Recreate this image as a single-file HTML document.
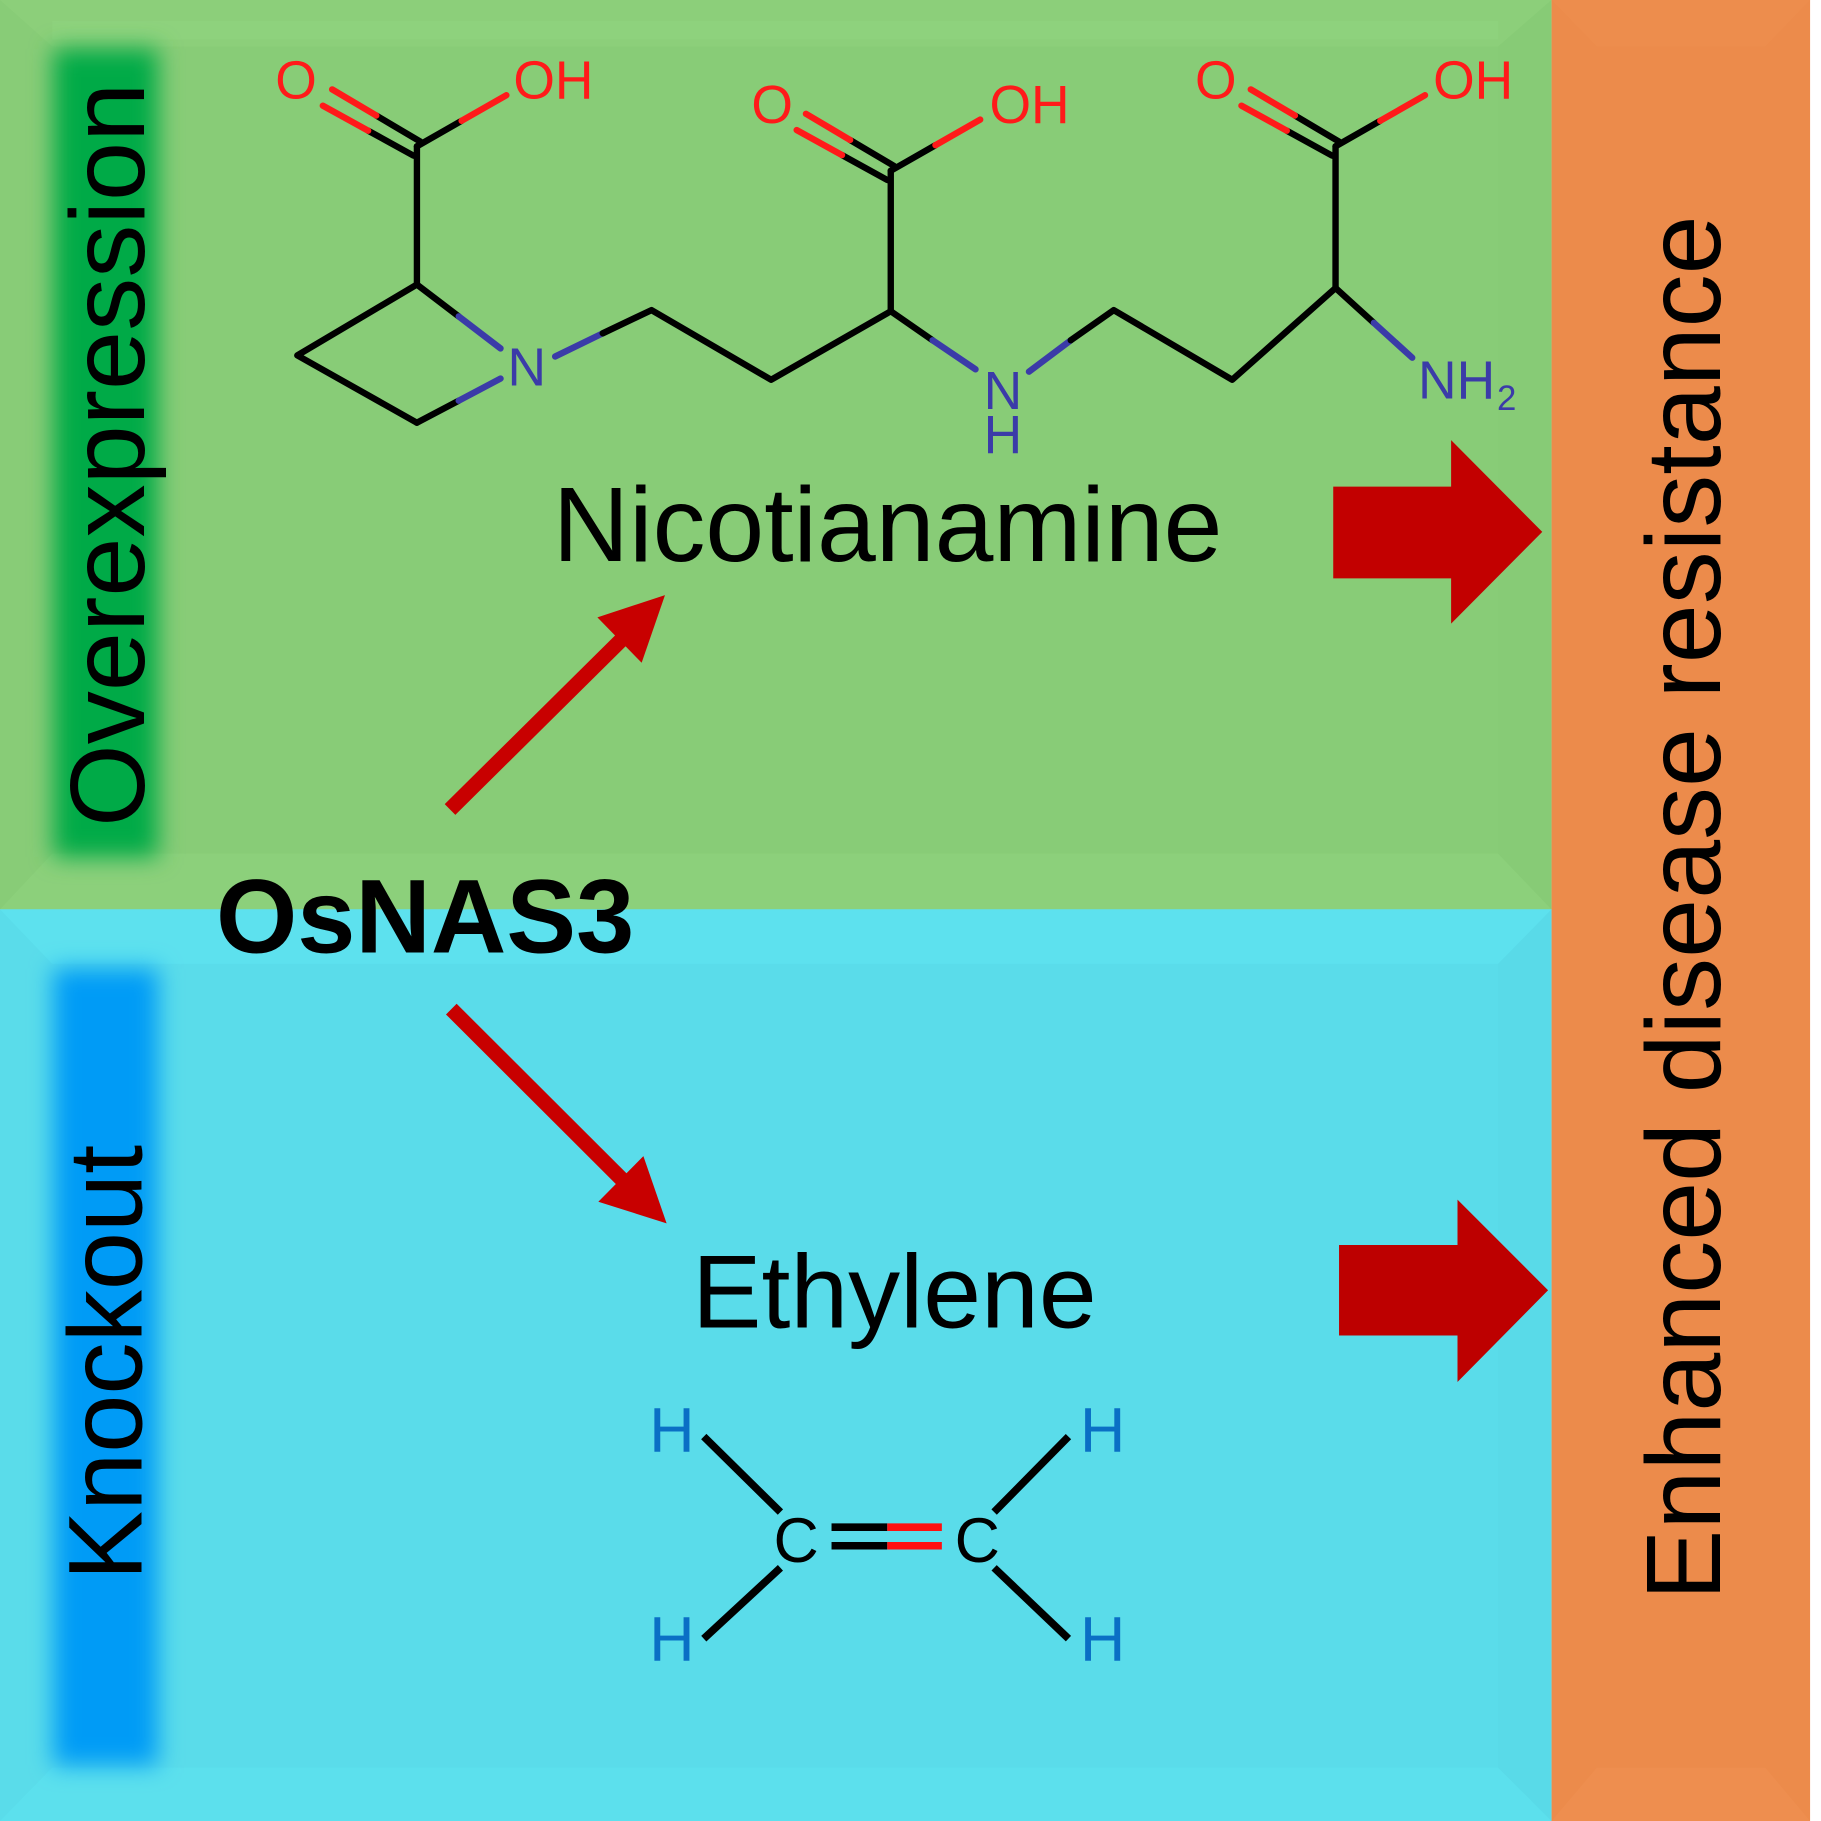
<!DOCTYPE html>
<html>
<head>
<meta charset="utf-8">
<style>
html,body{margin:0;padding:0;background:#ffffff;}
svg{display:block;}
text{font-family:"Liberation Sans",Arial,sans-serif;}
</style>
</head>
<body>
<svg width="1821" height="1821" viewBox="0 0 1568 1568" xmlns="http://www.w3.org/2000/svg">
<defs>
<filter id="blur" x="-50%" y="-20%" width="200%" height="140%">
<feGaussianBlur stdDeviation="10"/>
</filter>
</defs>
<rect x="0" y="0" width="1568" height="1568" fill="#ffffff"/>

<!-- Green panel -->
<rect x="0" y="0" width="1336" height="783" fill="#88cc77"/>
<polygon points="0,0 1336,0 1290,40 45,40" fill="#8ccf7a"/>
<rect x="45" y="18" width="1245" height="16" fill="#90d37e" opacity="0.6"/>
<polygon points="45,735 1290,735 1336,783 0,783" fill="#8cd07b"/>
<polygon points="1336,0 1290,40 1290,735 1336,783" fill="#87cb76"/>

<!-- Cyan panel -->
<rect x="0" y="783" width="1336" height="785" fill="#5adcea"/>
<polygon points="0,783 1336,783 1290,830 45,830" fill="#5de1ee"/>
<polygon points="45,1522 1290,1522 1336,1568 0,1568" fill="#5ce0ed"/>
<polygon points="1336,783 1290,830 1290,1522 1336,1568" fill="#59dae8"/>

<!-- Orange panel -->
<rect x="1336" y="0" width="222.6" height="1568" fill="#ec8b4b"/>
<polygon points="1336,0 1558.6,0 1520,40 1375,40" fill="#ed8d4d"/>
<polygon points="1375,1522 1520,1522 1558.6,1568 1336,1568" fill="#ee8e4f"/>

<!-- blurred side bars -->
<rect x="46" y="42" width="90" height="696" fill="#03aa46" filter="url(#blur)"/>
<rect x="46" y="834" width="90" height="686" fill="#069bf6" filter="url(#blur)"/>

<!-- vertical labels -->
<text transform="translate(124,712) rotate(-90)" font-size="91.5" fill="#000">Overexpression</text>
<text transform="translate(122,1361) rotate(-90)" font-size="90" fill="#000">Knockout</text>
<text transform="translate(1481,1378) rotate(-90)" font-size="91.3" fill="#000">Enhanced disease resistance</text>

<!-- main labels -->
<text x="476" y="483" font-size="91" fill="#000">Nicotianamine</text>
<text x="596" y="1143" font-size="89.5" fill="#000">Ethylene</text>
<text x="186" y="820" font-size="90" font-weight="bold" fill="#000">OsNAS3</text>

<!-- thin red arrows -->
<line x1="387.5" y1="697" x2="536" y2="550" stroke="#c80000" stroke-width="13"/>
<polygon points="572.6,512.4 514.4,531.6 552.5,570.7" fill="#c80000"/>
<line x1="388.6" y1="868.9" x2="537" y2="1017" stroke="#c80000" stroke-width="13"/>
<polygon points="574,1053.4 554,995.5 515.2,1034.8" fill="#c80000"/>

<!-- block arrows -->
<polygon points="1148,419 1249.5,419 1249.5,379 1328,458 1249.5,537 1249.5,498 1148,498" fill="#c20000"/>
<polygon points="1153,1072 1255,1072 1255,1033 1333,1111 1255,1190 1255,1150 1153,1150" fill="#bd0000"/>

<!-- Nicotianamine molecule bonds -->
<g stroke-width="5.5" fill="none" stroke-linecap="round" stroke-linejoin="round">
  <g transform="translate(359,126)">
    <line x1="3" y1="-4" x2="-35" y2="-26.5" stroke="#000"/>
    <line x1="-35" y1="-26.5" x2="-73" y2="-49" stroke="#ff1a1a"/>
    <line x1="-3" y1="8" x2="-42" y2="-13.5" stroke="#000"/>
    <line x1="-42" y1="-13.5" x2="-81" y2="-35" stroke="#ff1a1a"/>
    <line x1="0" y1="0" x2="38.5" y2="-22" stroke="#000"/>
    <line x1="38.5" y1="-22" x2="77" y2="-44" stroke="#ff1a1a"/>
  </g>
  <g transform="translate(767,147)">
    <line x1="3" y1="-4" x2="-35" y2="-26.5" stroke="#000"/>
    <line x1="-35" y1="-26.5" x2="-73" y2="-49" stroke="#ff1a1a"/>
    <line x1="-3" y1="8" x2="-42" y2="-13.5" stroke="#000"/>
    <line x1="-42" y1="-13.5" x2="-81" y2="-35" stroke="#ff1a1a"/>
    <line x1="0" y1="0" x2="38.5" y2="-22" stroke="#000"/>
    <line x1="38.5" y1="-22" x2="77" y2="-44" stroke="#ff1a1a"/>
  </g>
  <g transform="translate(1150,126)">
    <line x1="3" y1="-4" x2="-35" y2="-26.5" stroke="#000"/>
    <line x1="-35" y1="-26.5" x2="-73" y2="-49" stroke="#ff1a1a"/>
    <line x1="-3" y1="8" x2="-42" y2="-13.5" stroke="#000"/>
    <line x1="-42" y1="-13.5" x2="-81" y2="-35" stroke="#ff1a1a"/>
    <line x1="0" y1="0" x2="38.5" y2="-22" stroke="#000"/>
    <line x1="38.5" y1="-22" x2="77" y2="-44" stroke="#ff1a1a"/>
  </g>
  <line x1="359" y1="126" x2="359" y2="245" stroke="#000"/>
  <line x1="767" y1="147" x2="767" y2="268" stroke="#000"/>
  <line x1="1150" y1="126" x2="1150" y2="248" stroke="#000"/>
  <polyline points="359,245 256,306 359,364" stroke="#000"/>
  <line x1="359" y1="364" x2="395" y2="345" stroke="#000"/>
  <line x1="395" y1="345" x2="431" y2="326" stroke="#3b3ba8"/>
  <line x1="359" y1="245" x2="395" y2="272.5" stroke="#000"/>
  <line x1="395" y1="272.5" x2="431" y2="300" stroke="#3b3ba8"/>
  <line x1="478" y1="307" x2="519" y2="287" stroke="#3b3ba8"/>
  <polyline points="519,287 561,267 664,327 767,268 803,293" stroke="#000"/>
  <line x1="803" y1="293" x2="840" y2="318" stroke="#3b3ba8"/>
  <line x1="886" y1="320" x2="922" y2="293" stroke="#3b3ba8"/>
  <polyline points="922,293 959,267 1061,327 1150,248 1183,278" stroke="#000"/>
  <line x1="1183" y1="278" x2="1216" y2="308" stroke="#3b3ba8"/>
</g>

<!-- molecule atom labels -->
<g font-size="46" fill="#ff1a1a">
  <text x="237" y="85">O</text>
  <text x="442" y="85">OH</text>
  <text x="647" y="106">O</text>
  <text x="852" y="106">OH</text>
  <text x="1029" y="85">O</text>
  <text x="1234" y="85">OH</text>
</g>
<g font-size="46" fill="#3b3ba8">
  <text x="437" y="332">N</text>
  <text x="847" y="352">N</text>
  <text x="847" y="390">H</text>
  <text x="1221" y="343">NH</text>
  <text x="1289" y="353" font-size="30">2</text>
</g>

<!-- Ethylene molecule -->
<g stroke-width="6.5" stroke="#000" fill="none">
  <line x1="606" y1="1237" x2="672" y2="1302"/>
  <line x1="672" y1="1350" x2="606" y2="1411"/>
  <line x1="920" y1="1237" x2="856" y2="1302"/>
  <line x1="856" y1="1350" x2="920" y2="1411"/>
  <line x1="716" y1="1315" x2="764" y2="1315"/>
  <line x1="716" y1="1331" x2="764" y2="1331"/>
  <line x1="764" y1="1315" x2="811" y2="1315" stroke="#ff1010"/>
  <line x1="764" y1="1331" x2="811" y2="1331" stroke="#ff1010"/>
</g>
<g font-size="54" fill="#000">
  <text x="666" y="1345">C</text>
  <text x="822" y="1345">C</text>
</g>
<g font-size="54" fill="#0a6fc5">
  <text x="559" y="1250">H</text>
  <text x="559" y="1430">H</text>
  <text x="930" y="1250">H</text>
  <text x="930" y="1430">H</text>
</g>
</svg>
</body>
</html>
